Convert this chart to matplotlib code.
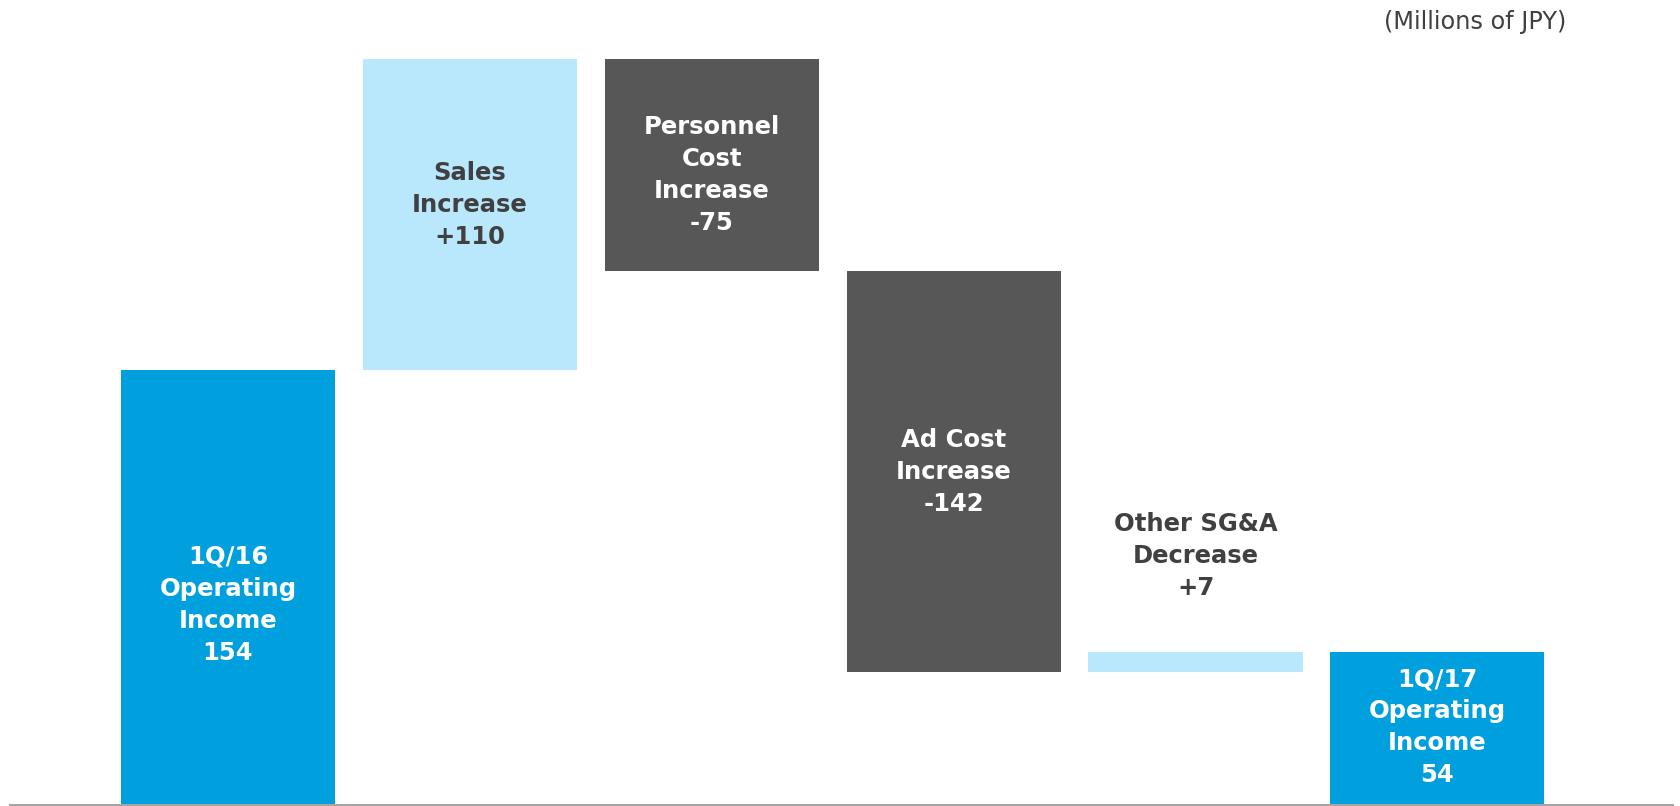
import matplotlib
matplotlib.use("Agg")
import matplotlib.pyplot as plt
import numpy as np

plt.rcParams['font.family'] = ['DejaVu Sans']

# Data
labels = ["1Q/16\nOperating\nIncome\n154",
          "Sales\nIncrease\n+110",
          "Personnel\nCost\nIncrease\n-75",
          "Ad Cost\nIncrease\n-142",
          "Other SG&A\nDecrease\n+7",
          "1Q/17\nOperating\nIncome\n54"]
values = [154, 110, -75, -142, 7, 54]
kinds = ["total", "delta", "delta", "delta", "delta", "total"]
unit_note = "(Millions of JPY)"

# Label placement (fraction of bar height; None = above bar)
label_frac = [0.46, 0.53, 0.455, 0.5, None, 0.51]

# Colors
c_total = "#009FDE"
c_up = "#B9E8FD"
c_down = "#575757"
c_dark_text = "#404040"

fig = plt.figure(figsize=(16.81, 8.06), dpi=100)
ax = fig.add_axes([10/1681, 1/806, 1663/1681, 805/806])

x = np.arange(len(values))
bottoms, heights, colors, tcolors = [], [], [], []
running = 0
for v, k in zip(values, kinds):
    if k == "total":
        bottoms.append(0); heights.append(v); running = v
        colors.append(c_total); tcolors.append("white")
    else:
        if v >= 0:
            bottoms.append(running); heights.append(v)
            colors.append(c_up); tcolors.append(c_dark_text)
        else:
            bottoms.append(running + v); heights.append(-v)
            colors.append(c_down); tcolors.append("white")
        running += v

ax.bar(x, heights, bottom=bottoms, width=0.885, color=colors,
       linewidth=0, edgecolor="none", antialiased=False)

for i, (lab, b, h, tc, fr) in enumerate(zip(labels, bottoms, heights, tcolors, label_frac)):
    ty = b + h + 34 if fr is None else b + h * fr
    ax.text(x[i], ty, lab, ha="center", va="center", color=tc,
            fontsize=17.5, fontweight="bold", linespacing=1.42)

ax.set_xlim(-0.901, 5.974)
ax.set_ylim(0, 285)
for s in ["top", "left", "right"]:
    ax.spines[s].set_visible(False)
ax.spines["bottom"].set_color("#A6A6A6")
ax.spines["bottom"].set_linewidth(1.5)
ax.set_xticks([]); ax.set_yticks([])
ax.patch.set_alpha(0)

fig.text(1566/1681, 1 - 22/806, unit_note, ha="right", va="center",
         fontsize=17.3, color=c_dark_text)

fig.savefig("out.png", dpi=100, facecolor="white")
